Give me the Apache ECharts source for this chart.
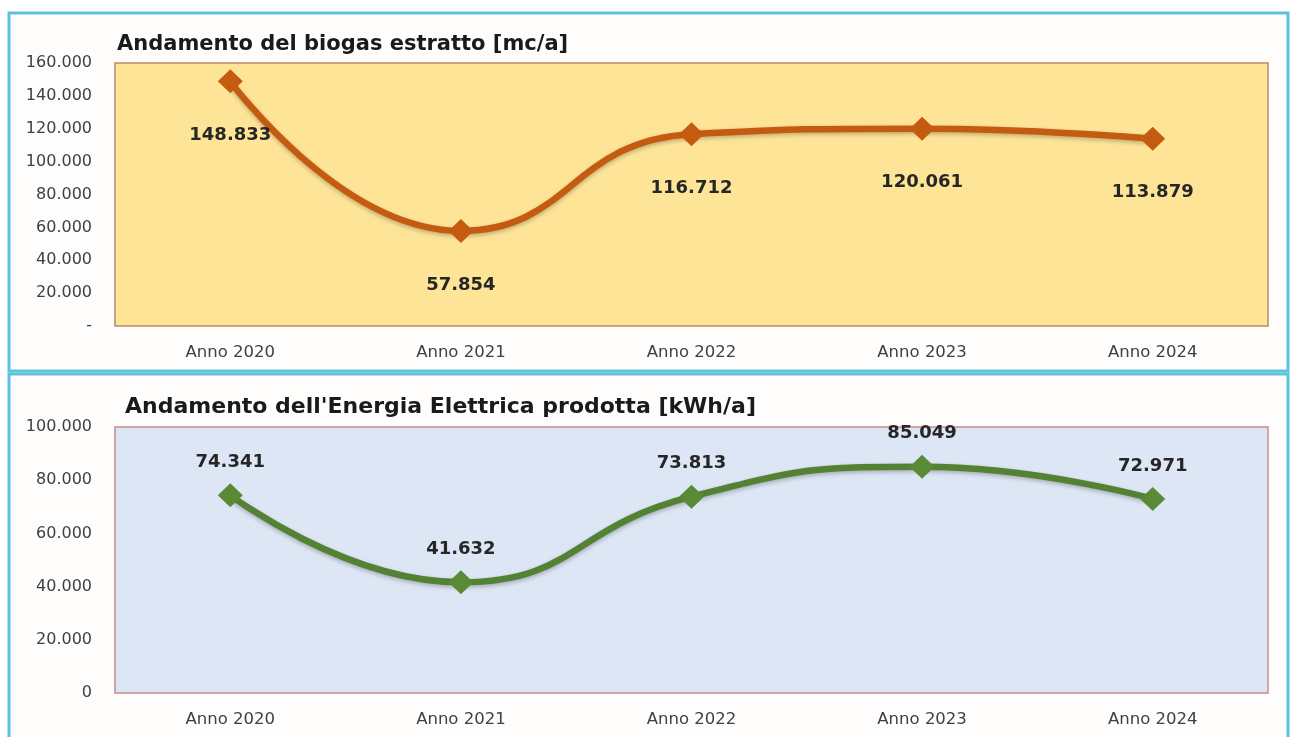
<!DOCTYPE html>
<html><head><meta charset="utf-8">
<script src="https://cdn.jsdelivr.net/npm/echarts@6/dist/echarts.min.js"></script>
<style>html,body{margin:0;padding:0;background:#fff}#c{width:1291px;height:737px}</style>
</head><body><div id="c"></div>
<script>
const categories = ['Anno 2020','Anno 2021','Anno 2022','Anno 2023','Anno 2024'];
const biogas = [148833, 57854, 116712, 120061, 113879];
const energia = [74341, 41632, 73813, 85049, 72971];
const title1 = 'Andamento del biogas estratto [mc/a]';
const title2 = "Andamento dell'Energia Elettrica prodotta [kWh/a]";

function fmt(v){ return String(Math.round(v)).replace(/\B(?=(\d{3})+(?!\d))/g,'.'); }
const FONT = 'DejaVu Sans, sans-serif';
const chart = echarts.init(document.getElementById('c'), null, {renderer:'canvas'});
const xCommon = {
  type:'category', data:categories, boundaryGap:true,
  axisLine:{show:false}, axisTick:{show:false},
  axisLabel:{color:'#404040', fontSize:16.5, fontFamily:FONT, margin:18}
};
chart.setOption({
  animation:false,
  graphic:[
    {type:'rect', shape:{x:9, y:13, width:1279, height:358}, style:{fill:'#fffcfc', stroke:'#5bc3dc', lineWidth:3}, z:-10},
    {type:'rect', shape:{x:9, y:374, width:1279, height:370}, style:{fill:'#fffcfc', stroke:'#5bc3dc', lineWidth:3}, z:-10}
  ],
  title:[
    {text:title1, left:112, top:29, textStyle:{fontSize:21, fontWeight:'bold', color:'#1a1a1a', fontFamily:FONT}},
    {text:title2, left:120, top:391, textStyle:{fontSize:22, fontWeight:'bold', color:'#1a1a1a', fontFamily:FONT}}
  ],
  grid:[
    {left:115, top:63, width:1153, height:263, show:true, backgroundColor:'#fee497', borderColor:'#b98a66', borderWidth:1.5},
    {left:115, top:427, width:1153, height:266, show:true, backgroundColor:'#dce6f4', borderColor:'#c98a90', borderWidth:1.5}
  ],
  xAxis:[
    Object.assign({gridIndex:0}, xCommon),
    Object.assign({gridIndex:1}, xCommon)
  ],
  yAxis:[
    {gridIndex:0, type:'value', min:0, max:160000, interval:20000,
     axisLine:{show:false}, axisTick:{show:false}, splitLine:{show:false},
     axisLabel:{color:'#404040', fontSize:16, fontFamily:FONT, margin:23,
       formatter:v=> v===0 ? '-' : fmt(v)}},
    {gridIndex:1, type:'value', min:0, max:100000, interval:20000,
     axisLine:{show:false}, axisTick:{show:false}, splitLine:{show:false},
     axisLabel:{color:'#404040', fontSize:16, fontFamily:FONT, margin:23,
       formatter:v=> fmt(v)}}
  ],
  series:[
    {type:'line', xAxisIndex:0, yAxisIndex:0, data:biogas, smooth:0.5,
     symbol:'diamond', symbolSize:[25,24],
     lineStyle:{color:'#c55a11', width:6.5, shadowColor:'rgba(0,0,0,0.25)', shadowBlur:4, shadowOffsetY:2},
     itemStyle:{color:'#c55a11'},
     label:{show:true, position:'bottom', distance:33, formatter:p=>fmt(p.value),
       fontSize:18, fontWeight:'bold', color:'#262626', fontFamily:FONT}},
    {type:'line', xAxisIndex:1, yAxisIndex:1, data:energia, smooth:0.5,
     symbol:'diamond', symbolSize:[25,24],
     lineStyle:{color:'#548235', width:6.5, shadowColor:'rgba(0,0,0,0.25)', shadowBlur:4, shadowOffsetY:2},
     itemStyle:{color:'#5a8a35'},
     label:{show:true, position:'top', distance:12, formatter:p=>fmt(p.value),
       fontSize:18, fontWeight:'bold', color:'#262626', fontFamily:FONT}}
  ]
});
</script></body></html>
